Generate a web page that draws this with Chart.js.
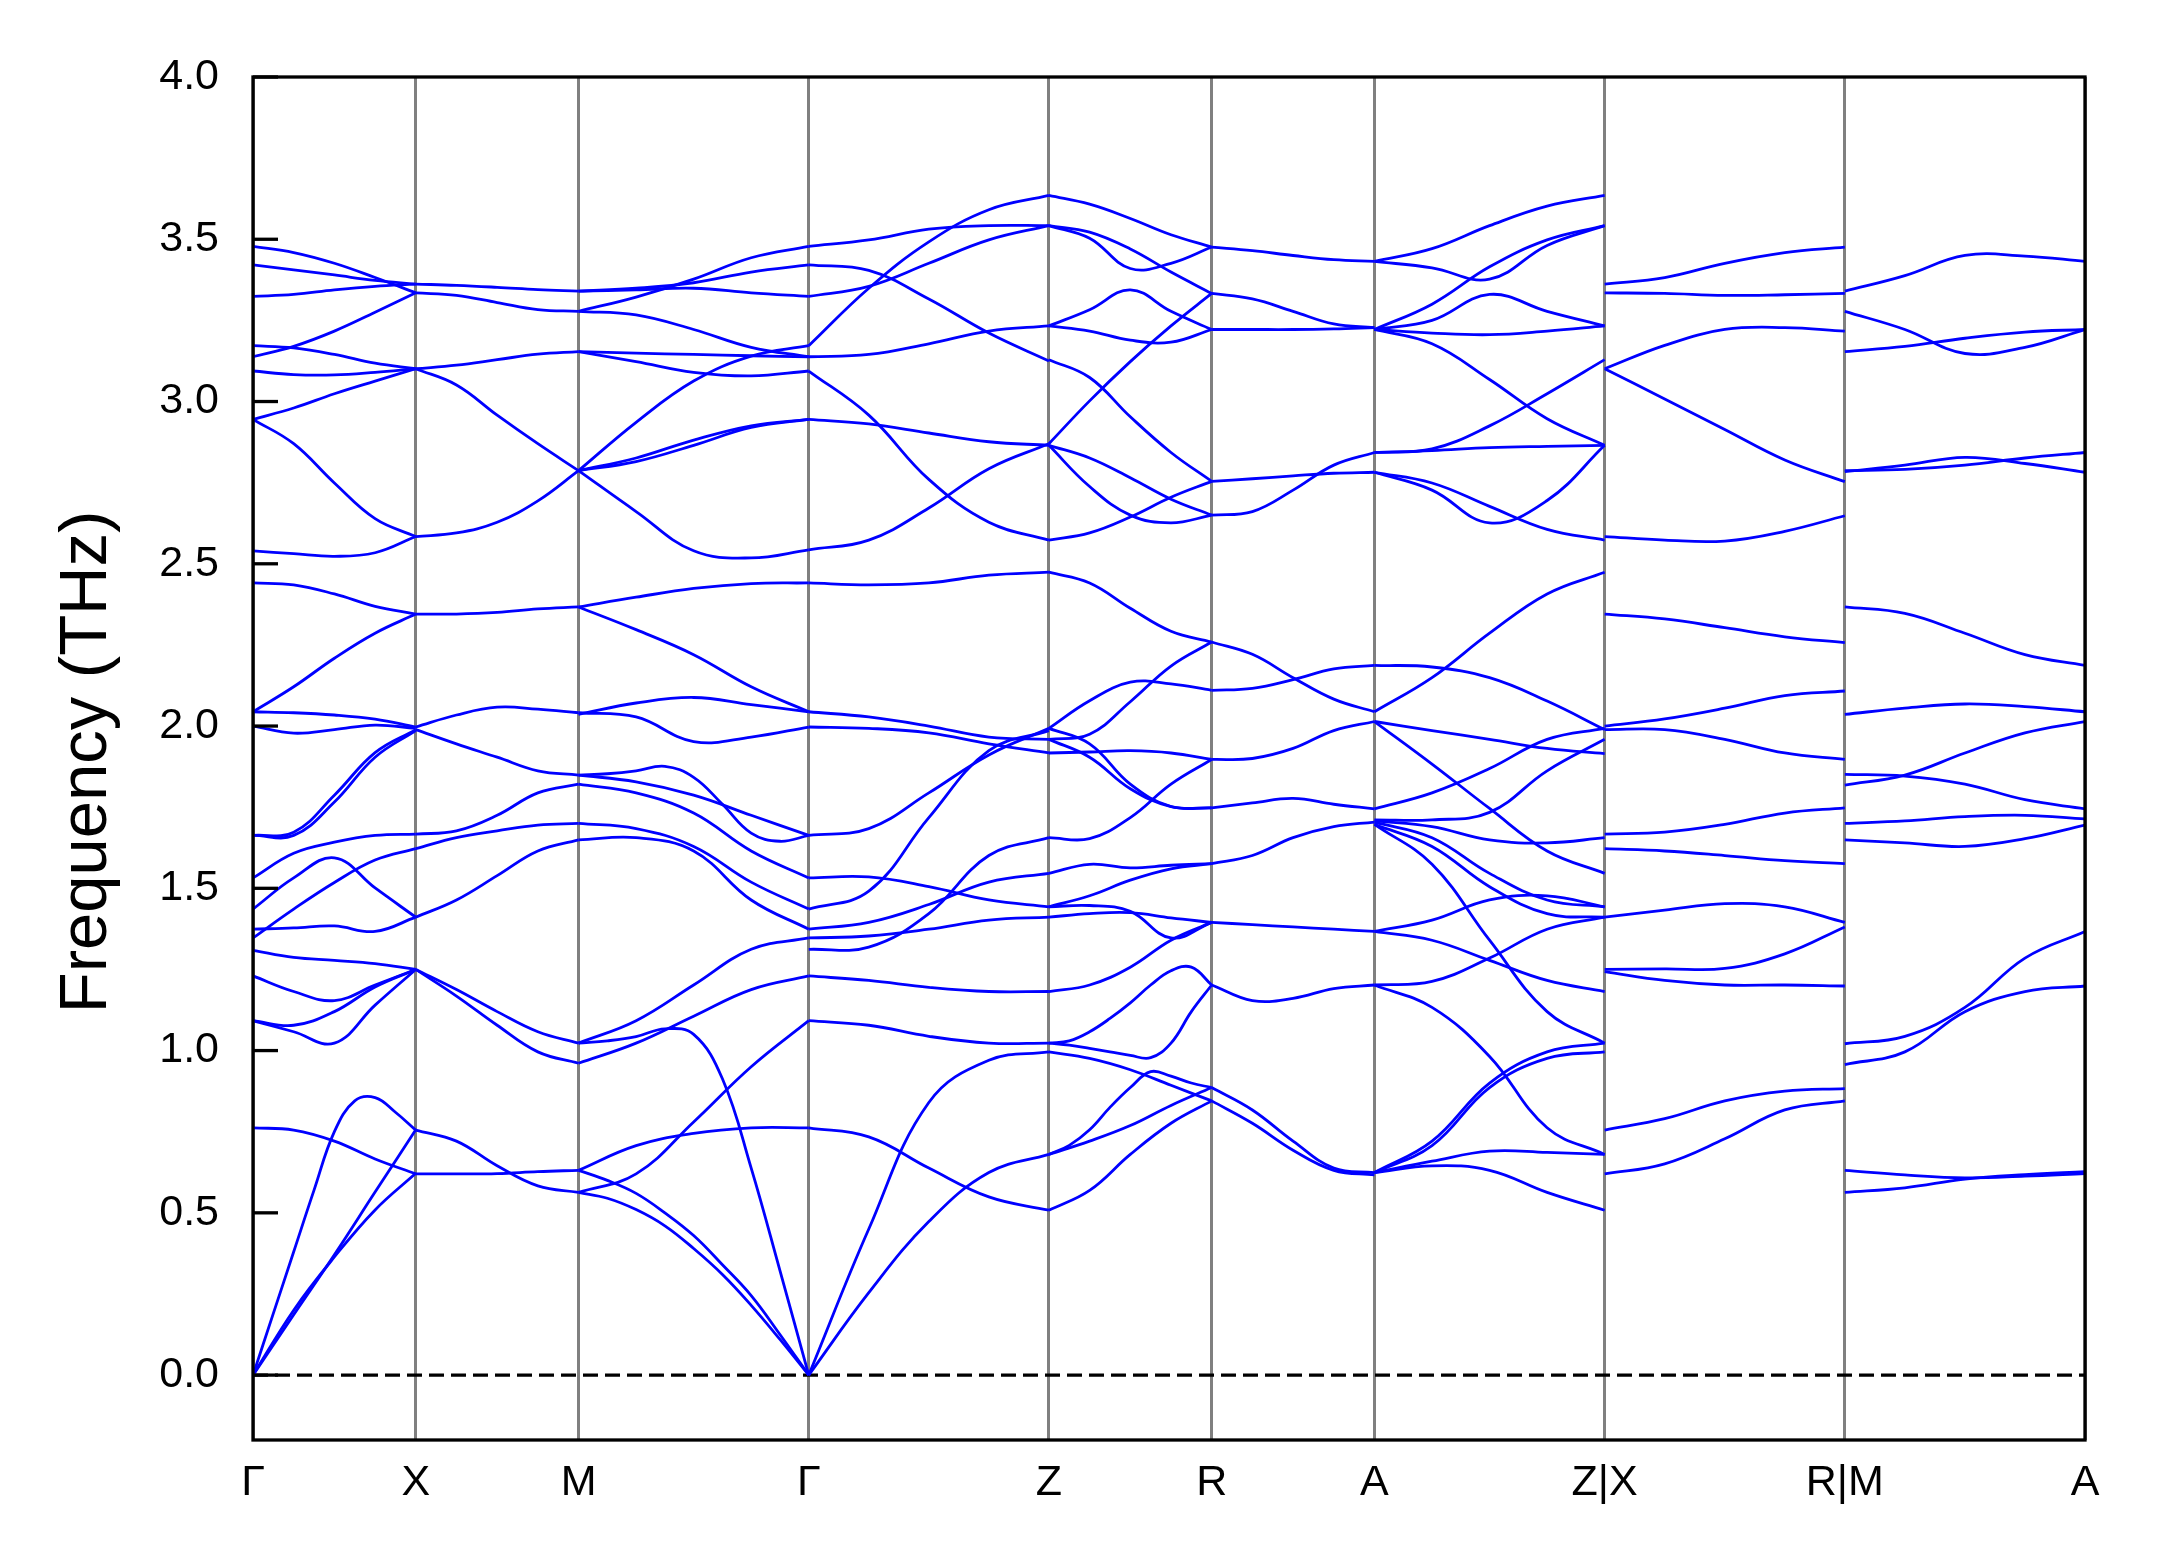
<!DOCTYPE html>
<html><head><meta charset="utf-8">
<script src="https://cdn.jsdelivr.net/npm/chart.js@4.4.1/dist/chart.umd.min.js"></script>
<style>html,body{margin:0;padding:0;background:#fff}canvas{display:block}</style>
</head><body>
<canvas id="c" width="2159" height="1567" style="width:2159px;height:1567px"></canvas>
<script>
// High-symmetry path: labels and cumulative distances (units of Γ–X)
const kLabels = ['Γ','X','M','Γ','Z','R','A','Z|X','R|M','A'];
const kDist   = [0, 1, 2, 3.4142, 4.8897, 5.8897, 6.8897, 8.3039, 9.7794, 11.2549];
const yTicks  = [0.0,0.5,1.0,1.5,2.0,2.5,3.0,3.5,4.0];
const yRange  = [-0.2, 4.0];

// Frequencies (THz) sampled evenly along each path segment, one row per band piece
const seg_GX = [
 [3.478,3.459,3.426,3.382,3.335],[3.421,3.406,3.390,3.373,3.362],[3.324,3.330,3.344,3.355,3.362],
 [3.138,3.170,3.217,3.275,3.335],[3.172,3.165,3.145,3.118,3.101],[3.094,3.083,3.082,3.090,3.101],
 [2.945,2.980,3.024,3.063,3.101],[2.945,2.870,2.749,2.639,2.584],[2.540,2.531,2.523,2.534,2.584],
 [2.441,2.435,2.407,2.369,2.345],[2.044,2.121,2.209,2.286,2.345],[2.044,2.041,2.034,2.021,1.997],
 [2.000,1.978,1.989,2.003,1.993],[1.663,1.673,1.787,1.918,1.989],[1.663,1.663,1.766,1.904,1.986],
 [1.532,1.608,1.642,1.663,1.667],[1.436,1.532,1.594,1.501,1.411],[1.374,1.378,1.384,1.367,1.411],
 [1.347,1.436,1.518,1.587,1.622],[1.309,1.287,1.278,1.268,1.250],[1.230,1.182,1.154,1.202,1.250],
 [1.092,1.078,1.120,1.196,1.250],[1.092,1.058,1.023,1.140,1.250],[0.762,0.755,0.721,0.666,0.620],
 [0,0.19,0.38,0.57,0.75,0.845,0.855,0.81,0.755],[0,0.186,0.371,0.564,0.756],[0,0.2,0.364,0.509,0.622]
];
const seg_XM = [
 [3.362,3.358,3.352,3.345,3.340],[3.335,3.327,3.305,3.283,3.278],[3.101,3.112,3.129,3.146,3.154],
 [3.101,3.051,2.958,2.870,2.787],[2.584,2.595,2.628,2.694,2.787],[2.345,2.345,2.350,2.361,2.367],
 [1.997,2.034,2.058,2.052,2.041],[1.989,1.945,1.904,1.862,1.849],[1.667,1.677,1.725,1.794,1.821],
 [1.622,1.656,1.677,1.695,1.700],[1.411,1.464,1.539,1.615,1.649],[1.250,1.188,1.120,1.058,1.023],
 [1.250,1.168,1.078,0.996,0.961],[0.755,0.721,0.645,0.583,0.563],[0.620,0.620,0.621,0.627,0.631]
];
const seg_MG = [
 [3.278,3.322,3.377,3.443,3.478],[3.340,3.349,3.366,3.399,3.421],[3.340,3.344,3.349,3.335,3.324],
 [3.278,3.267,3.222,3.167,3.138],[3.154,3.149,3.145,3.141,3.138],[3.154,3.123,3.090,3.079,3.094],
 [2.787,2.936,3.063,3.140,3.172],[2.787,2.826,2.881,2.925,2.945],[2.787,2.815,2.865,2.920,2.945],
 [2.787,2.661,2.540,2.518,2.543],[2.367,2.397,2.424,2.439,2.441],[2.367,2.297,2.220,2.121,2.044],
 [2.036,2.071,2.088,2.066,2.044],[2.041,2.028,1.952,1.966,1.997],
 [1.849,1.853,1.862,1.876,1.842,1.759,1.670,1.645,1.663],[1.849,1.828,1.787,1.725,1.663],
 [1.821,1.794,1.732,1.615,1.532],[1.700,1.684,1.629,1.519,1.436],[1.649,1.656,1.615,1.464,1.374],
 [1.023,1.092,1.202,1.312,1.347],[0.961,1.023,1.106,1.188,1.230],
 [1.023,1.030,1.043,1.067,1.050,0.913,0.638,0.322,0],
 [0.631,0.707,0.745,0.762,0.762],[0.563,0.62,0.78,0.95,1.092],
 [0.631,0.60,0.56,0.50,0.43,0.34,0.245,0.125,0],[0.563,0.545,0.51,0.46,0.39,0.31,0.215,0.11,0]
];
const seg_GZ = [
 [3.478,3.498,3.531,3.542,3.542],[3.421,3.404,3.316,3.211,3.125],[3.324,3.355,3.426,3.498,3.542],
 [3.172,3.349,3.492,3.591,3.635],[3.138,3.145,3.178,3.217,3.233],[3.094,2.958,2.760,2.628,2.573],
 [2.945,2.931,2.903,2.876,2.865],[2.543,2.573,2.672,2.793,2.870],[2.441,2.435,2.441,2.465,2.474],
 [2.044,2.028,2.000,1.966,1.959],[1.997,1.993,1.979,1.945,1.917],[1.663,1.684,1.794,1.911,1.993],
 [1.436,1.491,1.718,1.924,1.986],[1.532,1.535,1.505,1.464,1.443],[1.374,1.395,1.450,1.519,1.546],
 [1.347,1.353,1.374,1.402,1.411],[1.312,1.319,1.422,1.601,1.656],[1.230,1.216,1.195,1.182,1.182],
 [1.092,1.078,1.044,1.023,1.023],[0.762,0.734,0.638,0.549,0.508],[0,0.45,0.84,0.97,0.996],
 [0,0.254,0.473,0.624,0.680]
];
const seg_ZR = [
 [3.635,3.608,3.564,3.514,3.476],[3.542,3.522,3.470,3.399,3.333],[3.542,3.503,3.410,3.426,3.476],
 [3.233,3.283,3.344,3.278,3.222],[3.233,3.217,3.189,3.183,3.222],[3.129,3.074,2.953,2.843,2.754],
 [2.870,3.002,3.123,3.233,3.333],[2.865,2.826,2.765,2.699,2.650],[2.865,2.738,2.650,2.626,2.650],
 [2.573,2.595,2.644,2.705,2.754],[2.474,2.441,2.363,2.292,2.259],[1.959,1.975,2.075,2.185,2.259],
 [1.993,2.078,2.135,2.130,2.110],[1.917,1.920,1.924,1.917,1.897],[1.959,1.904,1.807,1.752,1.748],
 [1.993,1.945,1.821,1.752,1.748],[1.656,1.653,1.718,1.821,1.897],[1.546,1.574,1.563,1.571,1.576],
 [1.443,1.477,1.525,1.560,1.576],[1.443,1.447,1.429,1.347,1.395],[1.411,1.422,1.425,1.409,1.395],
 [1.182,1.202,1.257,1.340,1.395],
 [1.023,1.030,1.058,1.099,1.147,1.202,1.246,1.257,1.202],
 [1.023,1.017,1.007,0.996,0.985,0.978,1.023,1.120,1.202],
 [0.996,0.976,0.941,0.893,0.845],
 [0.680,0.708,0.756,0.825,0.886,0.935,0.921,0.900,0.886],
 [0.680,0.721,0.769,0.831,0.886],[0.508,0.569,0.680,0.776,0.845]
];
const seg_RA = [
 [3.476,3.465,3.450,3.437,3.432],[3.333,3.316,3.278,3.239,3.228],[3.222,3.222,3.222,3.224,3.228],
 [2.754,2.762,2.771,2.779,2.782],[2.650,2.661,2.727,2.804,2.843],[2.259,2.221,2.149,2.083,2.044],
 [2.110,2.116,2.143,2.176,2.187],[1.897,1.900,1.931,1.986,2.014],[1.748,1.763,1.777,1.759,1.745],
 [1.576,1.601,1.656,1.690,1.704],[1.395,1.388,1.381,1.374,1.367],[1.202,1.154,1.161,1.191,1.202],
 [0.886,0.817,0.721,0.638,0.624],[0.845,0.776,0.693,0.631,0.617]
];
const seg_AZ = [
 [3.432,3.471,3.542,3.602,3.635],[3.432,3.412,3.377,3.481,3.542],[3.222,3.300,3.415,3.498,3.542],
 [3.222,3.250,3.330,3.278,3.233],[3.222,3.211,3.206,3.217,3.233],[3.222,3.178,3.068,2.947,2.865],
 [2.843,2.854,2.925,3.024,3.129],[2.843,2.849,2.858,2.862,2.865],[2.782,2.727,2.626,2.695,2.865],
 [2.782,2.749,2.677,2.606,2.573],[2.044,2.149,2.286,2.407,2.474],[2.187,2.182,2.149,2.077,1.989],
 [2.014,1.986,1.959,1.931,1.915],[2.014,1.883,1.746,1.615,1.546],[1.745,1.794,1.869,1.959,1.993],
 [1.711,1.711,1.734,1.862,1.959],[1.708,1.690,1.649,1.640,1.656],[1.704,1.656,1.546,1.464,1.443],
 [1.697,1.574,1.340,1.120,1.023],[1.697,1.629,1.505,1.422,1.411],[1.367,1.402,1.464,1.477,1.443],
 [1.367,1.340,1.278,1.216,1.182],[1.202,1.213,1.285,1.374,1.411],[1.202,1.133,0.982,0.762,0.680],
 [0.624,0.721,0.900,0.996,1.023],[0.624,0.707,0.886,0.976,0.996],[0.624,0.659,0.690,0.686,0.680],
 [0.624,0.645,0.631,0.563,0.508]
];
const seg_XR = [
 [3.362,3.382,3.426,3.459,3.476],[3.335,3.333,3.327,3.329,3.333],[3.101,3.173,3.222,3.228,3.217],
 [3.101,3.008,2.914,2.820,2.753],[2.584,2.573,2.570,2.600,2.648],[2.345,2.330,2.303,2.275,2.257],
 [2.000,2.022,2.055,2.094,2.108],[1.989,1.989,1.959,1.917,1.897],[1.667,1.673,1.697,1.732,1.748],
 [1.622,1.615,1.601,1.585,1.576],[1.411,1.433,1.453,1.443,1.395],[1.250,1.252,1.253,1.298,1.381],
 [1.243,1.216,1.202,1.202,1.199],[0.755,0.790,0.845,0.875,0.883],[0.620,0.651,0.728,0.817,0.845]
];
const seg_MA = [
 [3.340,3.388,3.450,3.448,3.432],[3.278,3.222,3.148,3.167,3.222],[3.154,3.170,3.195,3.214,3.222],
 [2.787,2.791,2.804,2.826,2.843],[2.784,2.804,2.828,2.809,2.782],[2.367,2.347,2.286,2.220,2.187],
 [2.036,2.055,2.068,2.060,2.044],[1.818,1.849,1.917,1.979,2.014],[1.851,1.846,1.821,1.773,1.745],
 [1.700,1.708,1.721,1.725,1.714],[1.649,1.640,1.629,1.653,1.695],[1.021,1.044,1.133,1.285,1.367],
 [0.957,0.996,1.120,1.182,1.199],[0.631,0.617,0.608,0.613,0.621],[0.563,0.577,0.604,0.618,0.627]
];

const segments = [
 [seg_GX,0,1],[seg_XM,1,2],[seg_MG,2,3],[seg_GZ,3,4],[seg_ZR,4,5],
 [seg_RA,5,6],[seg_AZ,6,7],[seg_XR,7,8],[seg_MA,8,9]
];

const FONT = '"Liberation Sans", Arial, Helvetica, sans-serif';
const datasets = [];
segments.forEach(([rows,a,b]) => {
  const x0 = kDist[a], x1 = kDist[b];
  rows.forEach(r => {
    datasets.push({
      data: r.map((v,i) => ({x: x0 + (x1 - x0) * i / (r.length - 1), y: v})),
      borderColor: '#0000ff', borderWidth: 2.8, pointRadius: 0, showLine: true,
      tension: 0.4, fill: false
    });
  });
});
datasets.push({
  data: [{x: kDist[0], y: 0}, {x: kDist[kDist.length-1], y: 0}],
  borderColor: '#000000', borderWidth: 3.3, borderDash: [15, 7], pointRadius: 0,
  showLine: true, tension: 0, fill: false
});

const framePlugin = {
  id: 'frame',
  afterDraw(chart) {
    const {ctx, chartArea: {left, right, top, bottom}, scales: {y}} = chart;
    ctx.save();
    ctx.strokeStyle = '#000'; ctx.lineWidth = 3.3;
    ctx.strokeRect(left, top, right - left, bottom - top);
    y.ticks.forEach(t => {
      const p = y.getPixelForValue(t.value);
      ctx.beginPath(); ctx.moveTo(left, p); ctx.lineTo(left + 25, p); ctx.stroke();
    });
    ctx.translate(88, 762); ctx.rotate(-Math.PI / 2);
    ctx.font = '67px ' + FONT; ctx.fillStyle = '#000';
    ctx.textAlign = 'center'; ctx.textBaseline = 'middle';
    ctx.fillText('Frequency (THz)', 0, 0);
    ctx.restore();
  }
};

new Chart(document.getElementById('c'), {
  type: 'scatter',
  data: {datasets},
  options: {
    responsive: false, animation: false, devicePixelRatio: 1,
    layout: {padding: {top: 77, right: 74, left: 0, bottom: 0}},
    plugins: {legend: {display: false}, tooltip: {enabled: false}},
    scales: {
      x: {
        type: 'linear', min: kDist[0], max: kDist[kDist.length-1],
        afterBuildTicks: s => { s.ticks = kDist.map(v => ({value: v})); },
        afterFit: s => { s.height = 127; },
        grid: {display: true, color: '#808080', lineWidth: 3, drawTicks: false},
        border: {display: false},
        ticks: {
          autoSkip: false, maxRotation: 0, padding: 17, color: '#000',
          font: {family: FONT, size: 43},
          callback: (v, i) => kLabels[i]
        }
      },
      y: {
        type: 'linear', min: yRange[0], max: yRange[1],
        afterBuildTicks: s => { s.ticks = yTicks.map(v => ({value: v})); },
        afterFit: s => { s.width = 253; },
        grid: {display: false, drawTicks: false},
        border: {display: false},
        ticks: {
          padding: 34, color: '#000', font: {family: FONT, size: 43},
          callback: v => Number(v).toFixed(1)
        }
      }
    }
  },
  plugins: [framePlugin]
});
</script>
</body></html>
